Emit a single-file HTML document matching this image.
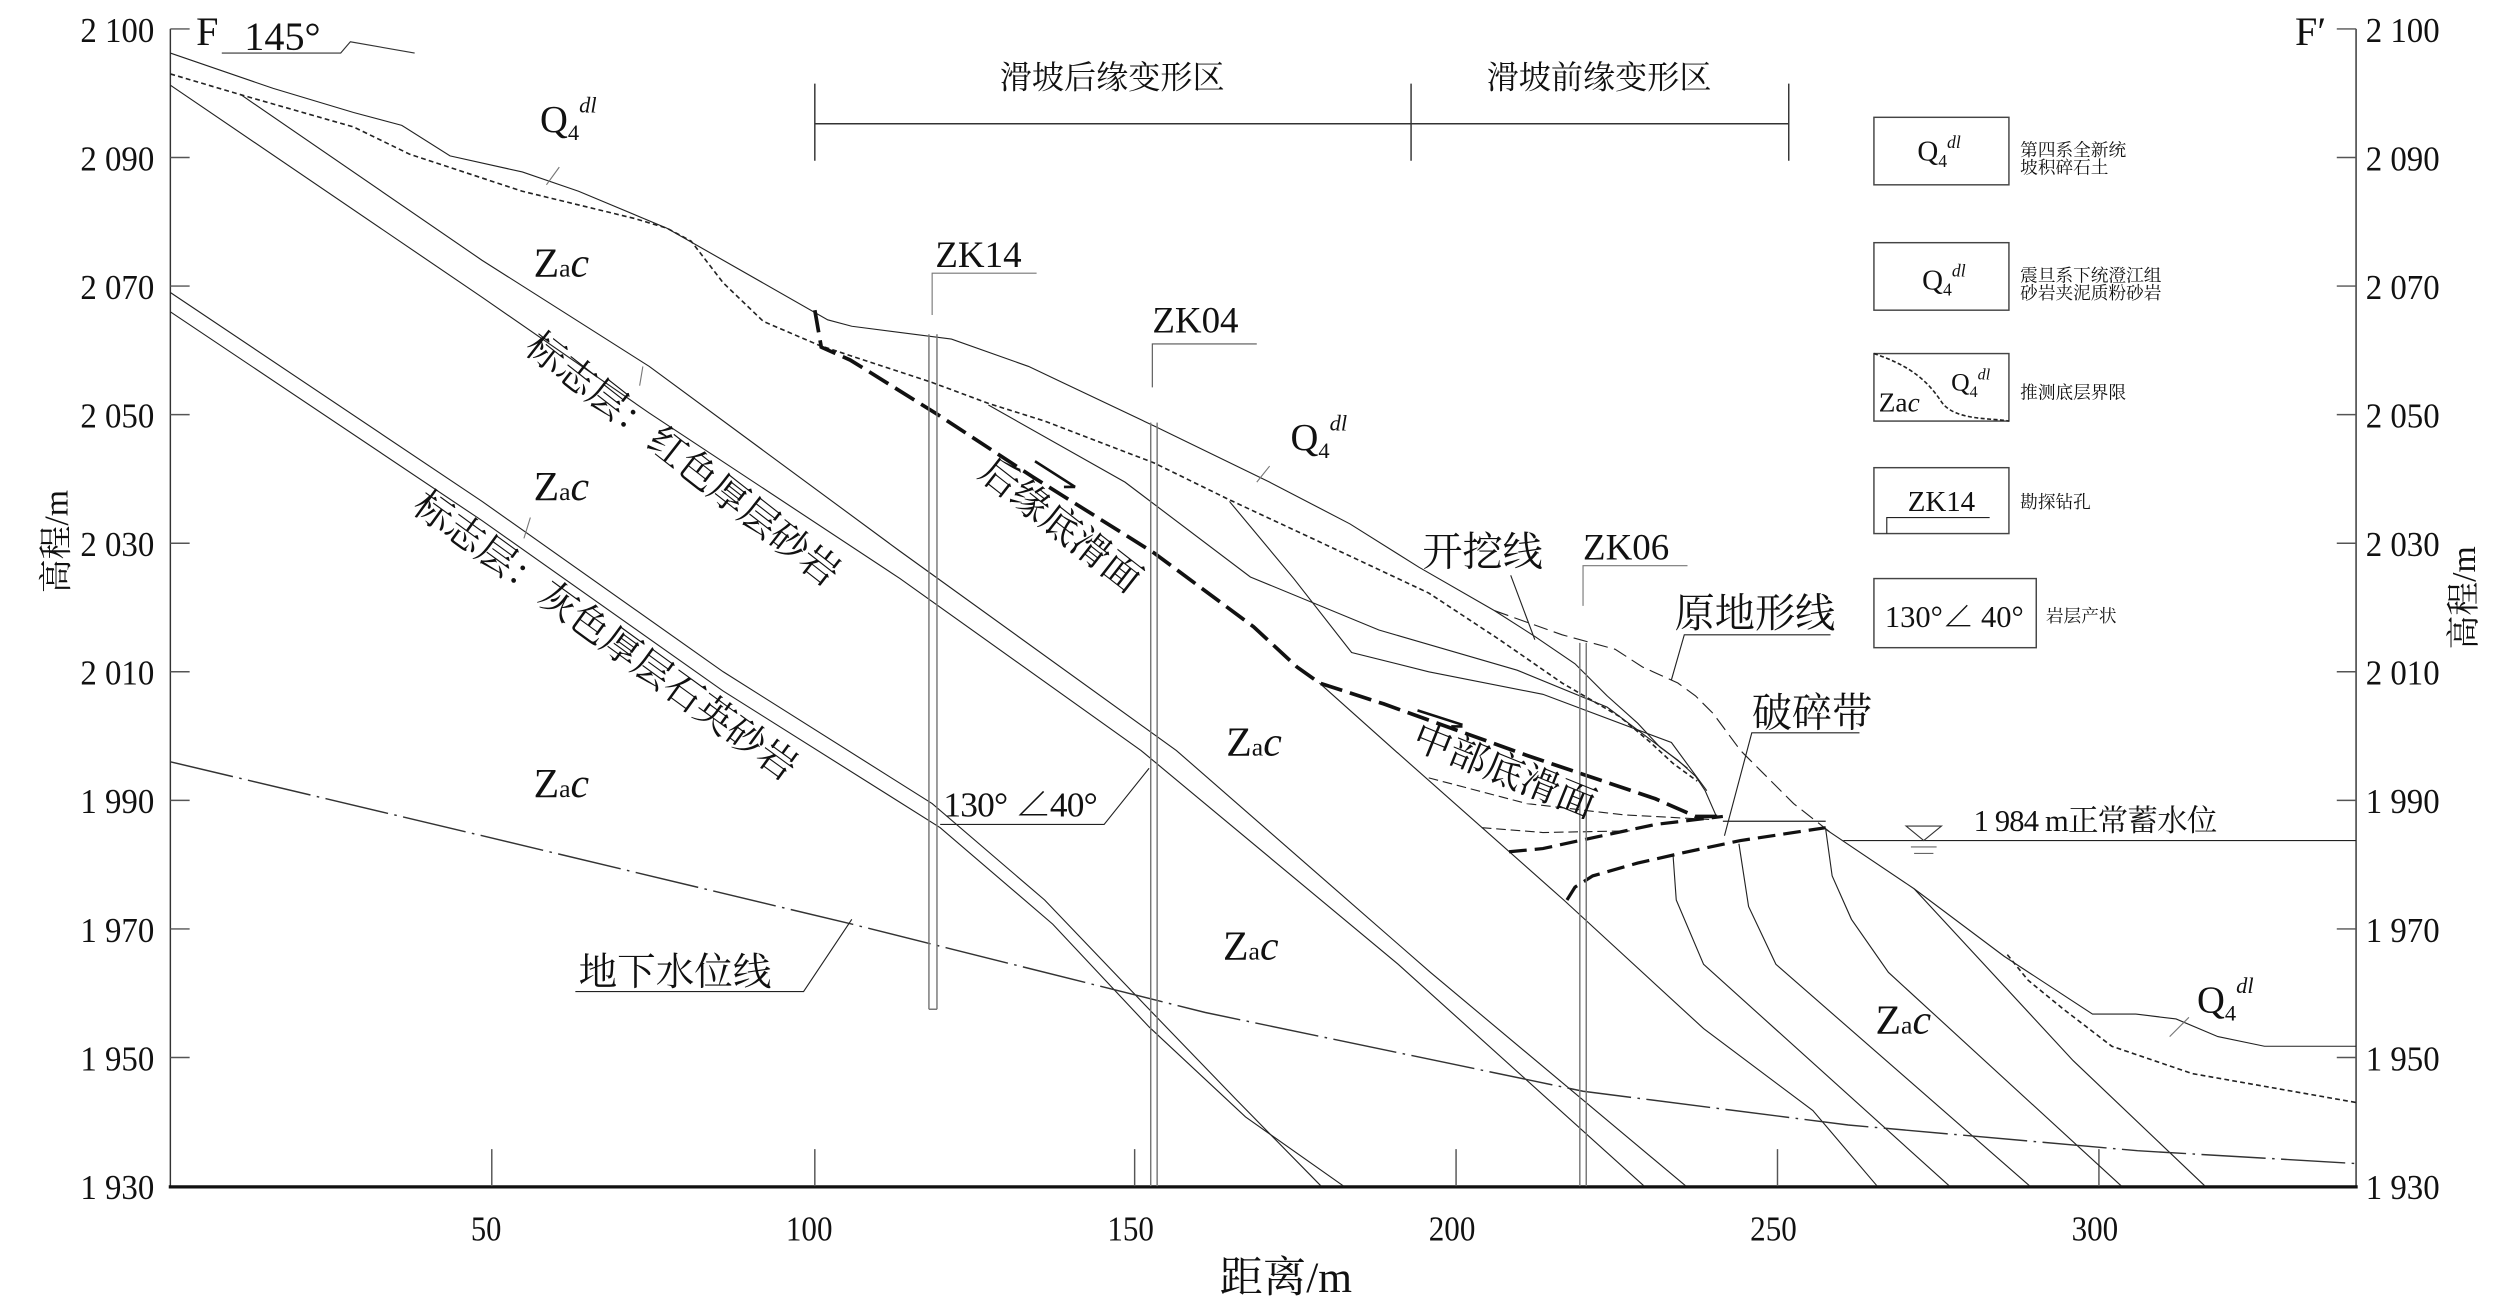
<!DOCTYPE html>
<html><head><meta charset="utf-8"><style>
html,body{margin:0;padding:0;background:#fff;}
svg{display:block;}
text{font-family:"Liberation Serif","Noto Serif CJK SC","Noto Sans CJK SC",serif;fill:#111;}
</style></head><body>
<svg width="2520" height="1305" viewBox="0 0 1568 812" preserveAspectRatio="none" xmlns="http://www.w3.org/2000/svg">
<rect x="0" y="0" width="1568" height="812" fill="#fff"/>
<g fill="none" stroke="#222" stroke-width="0.7">
<line x1="106" y1="18" x2="106" y2="738" stroke="#333" stroke-width="0.9"/>
<line x1="1466" y1="18" x2="1466" y2="738" stroke="#333" stroke-width="0.9"/>
<line x1="105" y1="738.5" x2="1467" y2="738.5" stroke="#111" stroke-width="2"/>
<path d="M106 18H118M106 98H118M106 178H118M106 258H118M106 338H118M106 418H118M106 498H118M106 578H118M106 658H118
M1454 18H1466M1454 98H1466M1454 178H1466M1454 258H1466M1454 338H1466M1454 418H1466M1454 498H1466M1454 578H1466M1454 658H1466
M306 738V715M507 738V715M706 738V715M906 738V715M1106 738V715M1306 738V715" stroke="#555" stroke-width="0.9"/>
<path d="M138 33H212L218 26L258 33" stroke="#333"/>
<path d="M507 77H1113M507 52V100M878 52V100M1113 52V100" stroke="#333" stroke-width="0.9"/>
<rect x="1166" y="73" width="84" height="42" stroke="#444" stroke-width="0.9"/>
<rect x="1166" y="151" width="84" height="42" stroke="#444" stroke-width="0.9"/>
<rect x="1166" y="220" width="84" height="42" stroke="#444" stroke-width="0.9"/>
<path d="M1166 220C1190 228 1200 238 1208 250S1240 260 1250 262" stroke-dasharray="2.5 1.5" stroke-width="1"/>
<rect x="1166" y="291" width="84" height="41" stroke="#444" stroke-width="0.9"/>
<path d="M1174 332V322H1238"/>
<rect x="1166" y="360" width="101" height="43" stroke="#444" stroke-width="0.9"/>

<polyline points="106,33 170,55 220,70 250,78 280,97 325,107 360,119 415,142 515,199 530,203 592,211 640,228 718,265 790,300 840,326 883,353 930,380 955,396 980,413 1000,433 1019,450 1033,465 1044,473 1055,483 1061,492 1068,508"/>
<polyline stroke-dasharray="3 2" stroke-width="1" points="106,46 150,59 220,79 255,96 325,119 395,136 415,142 430,150 450,176 475,200 510,215 580,238 615,251 650,262 718,288 765,311 840,346 889,369 933,398 972,425 1008,446 1027,462 1041,475 1056,486"/>
<polyline points="106,53 300,185 404,257 560,360 710,467 870,600 1023,738"/>
<polyline points="150,59 300,162 404,228 560,343 732,467 890,605 1049,738"/>
<polyline points="106,182 300,312 450,418 580,500 650,560 715,628 770,685 822,738"/>
<polyline points="106,194 300,324 450,430 585,515 655,575 715,639 775,695 836,738"/>
<polyline points="615,252 700,300 778,359 858,392 944,417 1000,440 1036,467 1050,478"/>
<polyline points="765,312 805,360 841,406 889,418 960,432 1040,462 1062,492"/>
<polyline stroke-dasharray="6 3" points="889,484 950,500 1010,507 1066,510"/>
<polyline stroke-dasharray="6 3" points="922,515 960,518 1014,517"/>
<polyline points="821,425 868,467 973,560 1060,640 1128,691 1168,738"/>
<polyline points="1041,532 1043,560 1060,600 1213,738"/>
<polyline points="1082,525 1088,564 1105,600 1263,738"/>
<polyline points="1136,516 1140,545 1152,572 1175,605 1320,738"/>
<polyline points="1191,553 1290,660 1372,738"/>
<polyline points="1136,516 1191,553 1247,595 1302,631 1329,631 1354,634 1380,645 1409,651 1466,651"/>
<polyline stroke-dasharray="3 2" stroke-width="1" points="1249,594 1262,610 1284,628 1314,651 1364,668 1466,686"/>
<polyline stroke-dasharray="9 4" points="930,380 972,395 1005,404 1022,415 1044,425 1055,433 1066,444 1083,467 1116,500 1139,518"/>
<line x1="1072" y1="511" x2="1136" y2="511"/>
<line x1="1147" y1="523" x2="1466" y2="523"/>
<path d="M1186 514H1208L1197 523Z" stroke="#333" fill="#fff"/>
<path d="M1189 527H1205M1191 531H1203" stroke="#666"/>
<polyline stroke="#333" stroke-dasharray="40 4 1.6 4" stroke-width="0.9" points="106,474 300,520 530,575 750,630 985,679 1150,700 1330,716 1466,724"/>
<polyline stroke="#111" stroke-width="2.3" stroke-dasharray="14 5" points="507,193 511,216 529,224 582,257 643,297 718,344 780,390 807,415 821,425 861,438 950,470 1030,497 1055,508 1072,508"/>
<polyline stroke="#111" stroke-width="2" stroke-dasharray="11 5" points="939,530 960,528 983,523 1030,513 1072,508"/>
<polyline stroke="#111" stroke-width="2" stroke-dasharray="11 5" points="975,560 980,552 991,545 1019,537 1050,530 1083,523 1136,515"/>
<path d="M644 287L669 303M662 303H669" stroke="#111" stroke-width="1.6"/>
<path d="M882 442L910 451M903 452H910" stroke="#111" stroke-width="1.6"/>
<path d="M578 208V628M583 208V628M583 628H578" stroke="#777" stroke-width="0.9"/>
<path d="M716 263V738M720 263V738" stroke="#777" stroke-width="0.9"/>
<path d="M983 400V738M987 400V738" stroke="#777" stroke-width="0.9"/>
<path d="M580 196V170H645" stroke="#777"/>
<path d="M717 241V214H782" stroke="#555"/>
<path d="M985 377V352H1050" stroke="#777"/>
<path d="M940 358L955 398" />
<path d="M1040 423L1048 395H1139" />
<path d="M1073 520L1090 456H1157" />
<path d="M715 478L687 513H585" />
<path d="M530 572L500 617H358" />
<path d="M340 115L348 104M782 300L790 290M1350 645L1362 633M398 240L400 228M326 335L330 322" stroke="#777"/>
</g>

<g font-size="22" text-anchor="end">
<text x="96" y="26" textLength="46" lengthAdjust="spacingAndGlyphs">2 100</text><text x="96" y="106" textLength="46" lengthAdjust="spacingAndGlyphs">2 090</text><text x="96" y="186" textLength="46" lengthAdjust="spacingAndGlyphs">2 070</text><text x="96" y="266" textLength="46" lengthAdjust="spacingAndGlyphs">2 050</text><text x="96" y="346" textLength="46" lengthAdjust="spacingAndGlyphs">2 030</text><text x="96" y="426" textLength="46" lengthAdjust="spacingAndGlyphs">2 010</text><text x="96" y="506" textLength="46" lengthAdjust="spacingAndGlyphs">1 990</text><text x="96" y="586" textLength="46" lengthAdjust="spacingAndGlyphs">1 970</text><text x="96" y="666" textLength="46" lengthAdjust="spacingAndGlyphs">1 950</text><text x="96" y="746" textLength="46" lengthAdjust="spacingAndGlyphs">1 930</text>
</g>
<g font-size="22">
<text x="1472" y="26" textLength="46" lengthAdjust="spacingAndGlyphs">2 100</text><text x="1472" y="106" textLength="46" lengthAdjust="spacingAndGlyphs">2 090</text><text x="1472" y="186" textLength="46" lengthAdjust="spacingAndGlyphs">2 070</text><text x="1472" y="266" textLength="46" lengthAdjust="spacingAndGlyphs">2 050</text><text x="1472" y="346" textLength="46" lengthAdjust="spacingAndGlyphs">2 030</text><text x="1472" y="426" textLength="46" lengthAdjust="spacingAndGlyphs">2 010</text><text x="1472" y="506" textLength="46" lengthAdjust="spacingAndGlyphs">1 990</text><text x="1472" y="586" textLength="46" lengthAdjust="spacingAndGlyphs">1 970</text><text x="1472" y="666" textLength="46" lengthAdjust="spacingAndGlyphs">1 950</text><text x="1472" y="746" textLength="46" lengthAdjust="spacingAndGlyphs">1 930</text>
</g>
<g font-size="22">
<text x="293" y="772" textLength="19" lengthAdjust="spacingAndGlyphs">50</text><text x="489" y="772" textLength="29" lengthAdjust="spacingAndGlyphs">100</text><text x="689" y="772" textLength="29" lengthAdjust="spacingAndGlyphs">150</text><text x="889" y="772" textLength="29" lengthAdjust="spacingAndGlyphs">200</text><text x="1089" y="772" textLength="29" lengthAdjust="spacingAndGlyphs">250</text><text x="1289" y="772" textLength="29" lengthAdjust="spacingAndGlyphs">300</text>
</g>
<text x="800" y="804" font-size="27" text-anchor="middle">距离/m</text>
<text transform="translate(42,337) rotate(-90)" font-size="21" text-anchor="middle">高程/m</text>
<text transform="translate(1540,372) rotate(-90)" font-size="21" text-anchor="middle">高程/m</text>

<text x="122" y="28" font-size="25">F</text>
<text x="152" y="31" font-size="25">145°</text>
<text x="1428" y="28" font-size="25">F′</text>

<text x="692" y="55" font-size="20" text-anchor="middle">滑坡后缘变形区</text>
<text x="995" y="55" font-size="20" text-anchor="middle">滑坡前缘变形区</text>

<text x="1193" y="100" font-size="18">Q<tspan font-size="11" dy="4">4</tspan><tspan font-size="11" font-style="italic" dy="-12">dl</tspan></text>
<text x="1196" y="180" font-size="18">Q<tspan font-size="11" dy="4">4</tspan><tspan font-size="11" font-style="italic" dy="-12">dl</tspan></text>
<text x="1169" y="256" font-size="17">Za<tspan font-style="italic">c</tspan></text>
<text x="1214" y="243" font-size="16">Q<tspan font-size="10" dy="4">4</tspan><tspan font-size="10" font-style="italic" dy="-11">dl</tspan></text>
<text x="1208" y="318" font-size="18" text-anchor="middle">ZK14</text>
<text x="1216" y="390" font-size="19" text-anchor="middle">130°∠ 40°</text>
<g font-size="11">
<text x="1257" y="97">第四系全新统</text><text x="1257" y="108">坡积碎石土</text>
<text x="1257" y="175">震旦系下统澄江组</text><text x="1257" y="186">砂岩夹泥质粉砂岩</text>
<text x="1257" y="248">推测底层界限</text>
<text x="1257" y="316">勘探钻孔</text>
<text x="1273" y="387">岩层产状</text>
</g>

<g font-size="24">
<text x="336" y="82">Q<tspan font-size="14" dy="5">4</tspan><tspan font-size="14" font-style="italic" dy="-17">dl</tspan></text>
<text x="803" y="280">Q<tspan font-size="14" dy="5">4</tspan><tspan font-size="14" font-style="italic" dy="-17">dl</tspan></text>
<text x="1367" y="630">Q<tspan font-size="14" dy="5">4</tspan><tspan font-size="14" font-style="italic" dy="-17">dl</tspan></text>
</g>
<g font-size="26">
<text x="332" y="172">Z<tspan font-size="16">a</tspan><tspan font-style="italic">c</tspan></text>
<text x="332" y="311">Z<tspan font-size="16">a</tspan><tspan font-style="italic">c</tspan></text>
<text x="332" y="496">Z<tspan font-size="16">a</tspan><tspan font-style="italic">c</tspan></text>
<text x="763" y="470">Z<tspan font-size="16">a</tspan><tspan font-style="italic">c</tspan></text>
<text x="761" y="597">Z<tspan font-size="16">a</tspan><tspan font-style="italic">c</tspan></text>
<text x="1167" y="643">Z<tspan font-size="16">a</tspan><tspan font-style="italic">c</tspan></text>
</g>
<text x="582" y="166" font-size="23">ZK14</text>
<text x="717" y="207" font-size="23">ZK04</text>
<text x="985" y="348" font-size="23">ZK06</text>
<text x="885" y="352" font-size="25">开挖线</text>
<text x="1042" y="390" font-size="25">原地形线</text>
<text x="1090" y="452" font-size="25">破碎带</text>
<text x="1228" y="517" font-size="19" letter-spacing="-0.5">1 984 m正常蓄水位</text>
<text x="587" y="508" font-size="22" letter-spacing="-0.5">130° ∠40°</text>
<text x="360" y="613" font-size="24">地下水位线</text>
<text transform="translate(420,292) rotate(38)" font-size="24" text-anchor="middle">标志层：红色厚层砂岩</text>
<text transform="translate(372,402) rotate(36)" font-size="24" text-anchor="middle">标志层：灰色厚层石英砂岩</text>
<text transform="translate(655,333) rotate(38)" font-size="24" text-anchor="middle">后缘底滑面</text>
<text transform="translate(933,487) rotate(22)" font-size="24" text-anchor="middle">中部底滑面</text>
</svg>
</body></html>
